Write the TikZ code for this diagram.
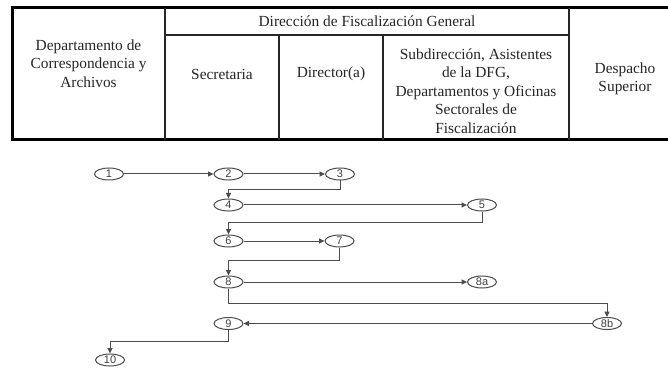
\documentclass[tikz,border=0pt]{standalone}
\usepackage{fontspec}
\setmainfont{Liberation Serif}
\newfontfamily\lblfont{Liberation Sans}
\usetikzlibrary{arrows.meta,shapes.geometric}
\begin{document}
\begin{tikzpicture}[x=1pt,y=-1pt,
  cell/.style={align=center, font=\fontsize{15.4}{18.5}\selectfont, text=black!85, inner sep=0pt},
  stepnode/.style={ellipse, draw=black!70, line width=1pt, minimum width=29pt, minimum height=12pt, inner sep=0pt, font=\lblfont\fontsize{11}{11}\selectfont, text=black!75},
  conn/.style={draw=black!70, line width=1pt},
  arr/.style={conn, -{Triangle[length=5.5pt,width=5pt]}},
  outer/.style={line width=3pt, line join=miter},
  inner/.style={line width=1.3pt, black!85}
  ]
\useasboundingbox (0,0) rectangle (668,371);
\fill[white] (0,0) rectangle (668,371);
% table
\draw[outer] (668,8) -- (12,8) -- (12,140) -- (668,140);
\draw[inner] (165,8) -- (165,140);
\draw[inner] (569,8) -- (569,140);
\draw[inner] (165,35) -- (569,35);
\draw[inner] (279,35) -- (279,140);
\draw[inner] (383,35) -- (383,140);
\node[cell] (hdfg) at (367,21) {Dirección de Fiscalización General};
\node[cell] (hdept) at (88.5,63.5) {Departamento de\\Correspondencia y\\Archivos};
\node[cell] (hsec) at (222,74) {Secretaria};
\node[cell] (hdir) at (331,74) {Director(a)};
\node[cell] (hsub) at (476,91) {Subdirección, Asistentes\\de la DFG,\\Departamentos y Oficinas\\Sectorales de\\Fiscalización};
\node[cell] (hdes) at (625,79) {Despacho\\Superior};
% flow
\node[stepnode] (n1) at (109,174) {1};
\node[stepnode] (n2) at (228.5,174) {2};
\node[stepnode] (n3) at (340,174) {3};
\node[stepnode] (n4) at (228.5,205) {4};
\node[stepnode] (n5) at (482,205) {5};
\node[stepnode] (n6) at (228.5,241) {6};
\node[stepnode] (n7) at (339.5,241) {7};
\node[stepnode] (n8) at (228.5,282) {8};
\node[stepnode] (n8a) at (482,282) {8a};
\node[stepnode] (n8b) at (607,323.5) {8b};
\node[stepnode] (n9) at (228.5,323.5) {9};
\node[stepnode] (n10) at (110,360) {10};
\draw[arr] (n1) -- (n2);
\draw[arr] (n2) -- (n3);
\draw[arr] (n3.south) -- ++(0,9.5) -| (n4.north);
\draw[arr] (n4) -- (n5);
\draw[arr] (n5.south) -- ++(0,10.5) -| (n6.north);
\draw[arr] (n6) -- (n7);
\draw[arr] (n7.south) -- ++(0,13) -| (n8.north);
\draw[arr] (n8) -- (n8a);
\draw[arr] (n8.south) -- ++(0,14.5) -| (n8b.north);
\draw[arr] (n8b) -- (n9);
\draw[arr] (n9.south) -- ++(0,11.5) -| (n10.north);
\end{tikzpicture}
\end{document}
